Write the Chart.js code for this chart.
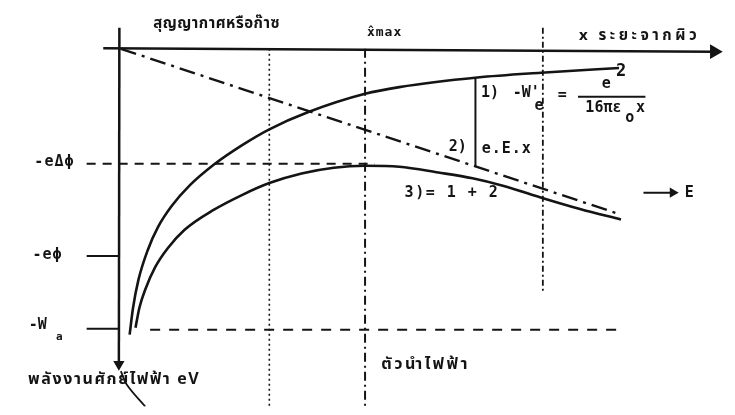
<!DOCTYPE html>
<html>
<head>
<meta charset="utf-8">
<script src="https://cdn.jsdelivr.net/npm/chart.js@4"></script>
<style>
  html, body { margin: 0; padding: 0; background: #ffffff; }
  #wrap { width: 735px; height: 415px; }
</style>
</head>
<body>
<div id="wrap"><canvas id="c" width="735" height="415"></canvas></div>
<script>
// ---- data (arbitrary units: x = distance from surface, y = energy, 0 at top axis) ----
const curve1X = [0.18, 0.25, 0.36, 0.55, 0.76, 1.04, 1.4, 1.9, 2.5, 3.04, 3.84, 5.0, 5.7, 7.3, 8.6, 10.2];
const curve1Y = [-29.8, -27.0, -24.1, -21.0, -18.6, -16.4, -14.3, -12.1, -10.0, -8.4, -6.6, -4.7, -4.0, -3.0, -2.5, -2.0];

const line2X = [0, 10.24];
const line2Y = [0, -17.3];

const curve3X = [0.3, 0.38, 0.5, 0.7, 0.96, 1.3, 1.9, 2.5, 3.04, 3.7, 4.36, 5.0, 5.7, 6.5, 7.2, 7.84, 8.66, 9.4, 10.24];
const curve3Y = [-29.1, -27.0, -25.1, -22.8, -20.8, -18.9, -16.8, -15.2, -14.0, -13.0, -12.4, -12.2, -12.3, -12.9, -13.5, -14.3, -15.6, -16.7, -17.8];

const levelNames  = ['-eΔϕ', '-eϕ', '-Wa'];
const levelValues = [-12.0, -21.6, -29.2];

const markerNames  = ['dotted', 'xmax', 'dashed'];
const markerValues = [3.04, 5.0, 8.64];

const eExX = 7.26;          // x where e.E.x is marked
const eExTop = -3.1;        // on curve 1
const eExBottom = -12.3;    // on line 2

// ---- helpers ----
const pts = (xs, ys) => xs.map((x, i) => ({ x: x, y: ys[i] }));
const INK = '#141414';

function seg(pointsArr, opts) {
  return Object.assign({
    data: pointsArr,
    showLine: true,
    borderColor: INK,
    backgroundColor: INK,
    borderWidth: 2,
    pointRadius: 0,
    pointHoverRadius: 0,
    fill: false,
    tension: 0
  }, opts || {});
}

const datasets = [
  // x axis with arrow
  seg([{x: -0.36, y: 0.05}, {x: 12.15, y: -0.3}], {
    borderWidth: 2.5,
    pointRadius: [0, 6], pointStyle: 'triangle', rotation: 90
  }),
  // energy axis (downward) with arrow
  seg([{x: -0.03, y: 2.2}, {x: -0.04, y: -32.9}], {
    borderWidth: 2.5,
    pointRadius: [0, 4], pointStyle: 'triangle', rotation: 180
  }),
  // leader curve from axis arrow to label
  seg([{x: 0.0, y: -33.6}, {x: 0.12, y: -35.0}, {x: 0.5, y: -37.3}], {
    borderWidth: 1.8, tension: 0.4
  }),
  // level ticks -eϕ, -Wa (solid short)
  seg([{x: -0.7, y: levelValues[1]}, {x: -0.04, y: levelValues[1]}], { borderWidth: 2 }),
  seg([{x: -0.7, y: levelValues[2]}, {x: -0.04, y: levelValues[2]}], { borderWidth: 2 }),
  // -eΔϕ dashed level
  seg([{x: -0.7, y: levelValues[0]}, {x: 5.2, y: levelValues[0]}], { borderWidth: 2, borderDash: [9, 7] }),
  // -Wa dashed level
  seg([{x: 0.6, y: levelValues[2] - 0.1}, {x: 10.3, y: levelValues[2] - 0.1}], { borderWidth: 2, borderDash: [10, 9] }),
  // vertical markers
  seg([{x: markerValues[0], y: 0}, {x: markerValues[0], y: -37.3}], { borderWidth: 1.6, borderDash: [2, 3] }),
  seg([{x: markerValues[1], y: 0}, {x: markerValues[1], y: -37.3}], { borderWidth: 2, borderDash: [9, 4, 2, 4] }),
  seg([{x: markerValues[2], y: 2.2}, {x: markerValues[2], y: -25.5}], { borderWidth: 1.8, borderDash: [6, 3, 2, 3] }),
  // curve 1: image force  -W'e
  seg(pts(curve1X, curve1Y), { borderWidth: 2.6, cubicInterpolationMode: 'monotone' }),
  // line 2: e.E.x (dash-dot)
  seg(pts(line2X, line2Y), { borderWidth: 2.4, borderDash: [16, 6, 3, 6] }),
  // curve 3 = 1 + 2
  seg(pts(curve3X, curve3Y), { borderWidth: 2.6, cubicInterpolationMode: 'monotone' }),
  // e.E.x marker segment
  seg([{x: eExX, y: eExTop}, {x: eExX, y: eExBottom}], { borderWidth: 2 }),
  // field arrow  -> E
  seg([{x: 10.7, y: -15.0}, {x: 11.3, y: -15.0}], {
    borderWidth: 2, pointRadius: [0, 4], pointStyle: 'triangle', rotation: 90
  })
];

// ---- text labels (anchored in data units) ----
const THAI_FAM = "'Noto Sans Thai', 'Noto Sans', 'Loma', 'Garuda', 'Tlwg Typo', 'DejaVu Sans', sans-serif";
const THAI = "bold 15px " + THAI_FAM;
const THAI_L = "bold 16px " + THAI_FAM;
const MONO = "bold 15px 'DejaVu Sans Mono', 'Liberation Mono', monospace";
const MONO_S = "bold 11px 'DejaVu Sans Mono', 'Liberation Mono', monospace";
const MONO_M = "bold 13px 'DejaVu Sans Mono', 'Liberation Mono', monospace";

const labels = [
  { t: 'สุญญากาศหรือก๊าซ', x: 1.96, y: 2.5, f: THAI, s: 0.5 },
  { t: 'x̂max', x: 5.4, y: 1.7, f: MONO_M, s: 1 },
  { t: 'x ระยะจากผิว', x: 10.62, y: 1.2, f: THAI, s: 3.5 },
  { t: '1)', x: 7.56, y: -4.6, f: MONO },
  { t: "-W'", x: 8.3, y: -4.6, f: MONO },
  { t: 'e', x: 8.56, y: -6.0, f: MONO },
  { t: '=', x: 9.04, y: -4.8, f: MONO },
  { t: 'e', x: 9.94, y: -3.7, f: MONO },
  { t: '2', x: 10.24, y: -2.4, f: "bold 17px 'DejaVu Sans Mono', monospace" },
  { t: '16πε', x: 9.88, y: -6.2, f: MONO },
  { t: 'o', x: 10.42, y: -7.2, f: MONO },
  { t: 'x', x: 10.64, y: -6.2, f: MONO },
  { t: '2)', x: 6.9, y: -10.3, f: MONO },
  { t: 'e.E.x', x: 7.9, y: -10.5, f: MONO, s: 1 },
  { t: '3)= 1 + 2', x: 6.78, y: -15.0, f: MONO, s: 1.5 },
  { t: '-eΔϕ', x: -1.36, y: -11.8, f: MONO, s: 1 },
  { t: '-eϕ', x: -1.5, y: -21.5, f: MONO, s: 1 },
  { t: '-W', x: -1.7, y: -28.8, f: MONO },
  { t: 'a', x: -1.26, y: -30.1, f: MONO_S },
  { t: 'พลังงานศักย์ไฟฟ้า eV', x: -1.9, y: -34.6, f: THAI_L, a: 'left', s: 1.6 },
  { t: 'ตัวนำไฟฟ้า', x: 6.24, y: -33.1, f: THAI_L, s: 2.5 },
  { t: 'E', x: 11.64, y: -15.0, f: MONO }
];

const textPlugin = {
  id: 'texts',
  afterDatasetsDraw(chart) {
    const ctx = chart.ctx, xs = chart.scales.x, ys = chart.scales.y;
    ctx.save();
    ctx.fillStyle = INK;
    ctx.textBaseline = 'middle';
    labels.forEach(l => {
      ctx.font = l.f;
      ctx.letterSpacing = (l.s || 0) + 'px';
      ctx.textAlign = l.a || 'center';
      ctx.fillText(l.t, xs.getPixelForValue(l.x), ys.getPixelForValue(l.y));
    });
    ctx.letterSpacing = '0px';
    // fraction bar
    ctx.strokeStyle = INK;
    ctx.lineWidth = 2;
    ctx.beginPath();
    ctx.moveTo(xs.getPixelForValue(9.36), ys.getPixelForValue(-5.0));
    ctx.lineTo(xs.getPixelForValue(10.74), ys.getPixelForValue(-5.0));
    ctx.stroke();
    ctx.restore();
  }
};

new Chart(document.getElementById('c'), {
  type: 'scatter',
  data: { datasets: datasets },
  options: {
    responsive: false,
    animation: false,
    devicePixelRatio: 1,
    layout: { padding: 0 },
    plugins: { legend: { display: false }, tooltip: { enabled: false } },
    scales: {
      x: { type: 'linear', min: -2.3, max: 12.4, display: false },
      y: { type: 'linear', min: -37.3, max: 4.2, display: false }
    }
  },
  plugins: [textPlugin]
});
</script>
</body>
</html>
